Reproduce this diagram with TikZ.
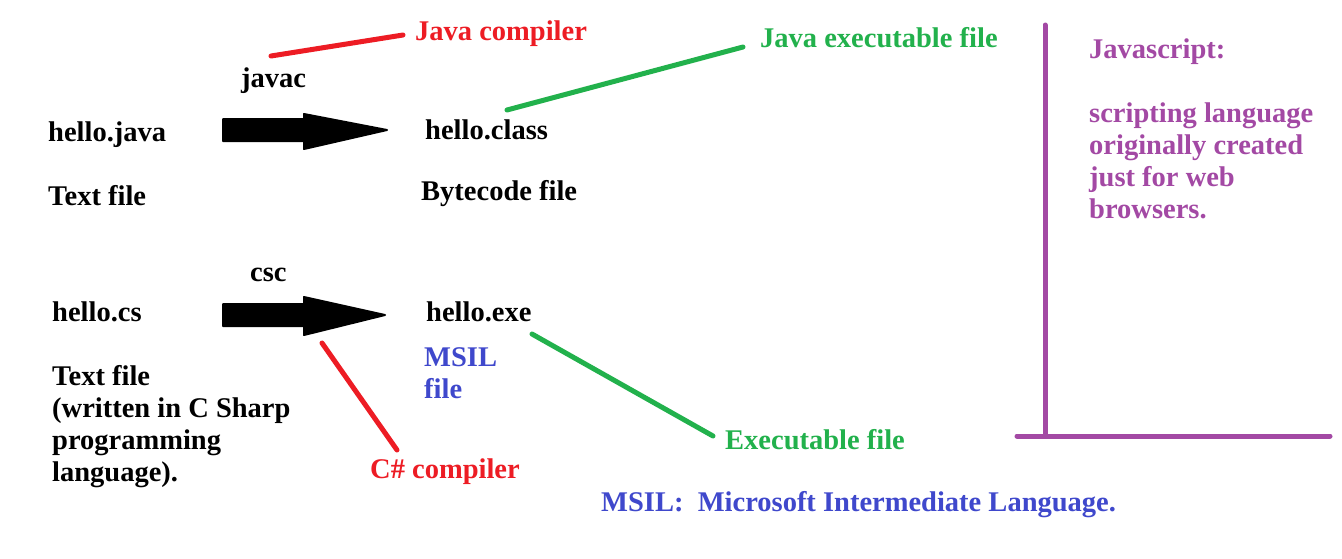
\documentclass[tikz,border=0pt]{standalone}
\usepackage{fontspec}
\setmainfont{Liberation Serif}
\definecolor{pred}{RGB}{237,28,36}
\definecolor{pgreen}{RGB}{34,177,76}
\definecolor{pblue}{RGB}{63,72,204}
\definecolor{ppurple}{RGB}{163,73,164}
\begin{document}
\begin{tikzpicture}[x=1pt,y=-1pt,
  lbl/.style={anchor=base west,inner sep=0pt,font=\fontsize{28.5}{32}\selectfont\bfseries,align=left},
  pointer/.style={line width=5pt,line cap=round},
  fatarrow/.style={fill=black,draw=black,line width=2pt,line join=round}]
\useasboundingbox[fill=white] (0,0) rectangle (1342,558);
% texts (multi-line nodes are placed by the baseline of their last line)
\node[lbl,text=pred] (jcomp) at (415,40) {Java compiler};
\node[lbl] (javac) at (241,87) {javac};
\node[lbl] (hjava) at (48,141) {hello.java};
\node[lbl] (hclass) at (425,139) {hello.class};
\node[lbl,text=pgreen] (jexe) at (760,47) {Java executable file};
\node[lbl] (tf1) at (48,205) {Text file};
\node[lbl] (bc) at (421,200) {Bytecode file};
\node[lbl] (csc) at (250,281) {csc};
\node[lbl] (hcs) at (52,321) {hello.cs};
\node[lbl] (hexe) at (426,321) {hello.exe};
\node[lbl,text=pblue] (msilf) at (424,398) {MSIL\\file};
\node[lbl] (tf2) at (52,481) {Text file\\(written in C Sharp\\programming\\language).};
\node[lbl,text=pred] (ccomp) at (370,478) {C\# compiler};
\node[lbl,text=pgreen] (exef) at (725,449) {Executable file};
\node[lbl,text=pblue] (msil) at (601,511) {MSIL:\ \ Microsoft Intermediate Language.};
\node[lbl,text=ppurple] (js) at (1089,218) {Javascript:\\[32pt]scripting language\\originally created\\just for web\\browsers.};
% fat arrows
\coordinate (a1s) at (223,130);
\coordinate (a1t) at (387,130);
\fill[fatarrow] (223,119) -- (304,119) -- (304,114) -- (a1t) -- (304,149) -- (304,141) -- (223,141) -- cycle;
\coordinate (a2s) at (223,315);
\coordinate (a2t) at (385,315);
\fill[fatarrow] (223,304) -- (304,304) -- (304,297) -- (a2t) -- (304,335) -- (304,326) -- (223,326) -- cycle;
% pointer lines
\coordinate (r1a) at (271,56);
\coordinate (r1b) at (403,35);
\draw[pointer,pred] (r1a) -- (r1b);
\coordinate (g1a) at (507,110);
\coordinate (g1b) at (743,47);
\draw[pointer,pgreen] (g1a) -- (g1b);
\coordinate (r2a) at (322,343);
\coordinate (r2b) at (397,450);
\draw[pointer,pred] (r2a) -- (r2b);
\coordinate (g2a) at (532,334);
\coordinate (g2b) at (713,436);
\draw[pointer,pgreen] (g2a) -- (g2b);
% purple lines
\coordinate (pv1) at (1045,25);
\coordinate (pv2) at (1045,436);
\coordinate (ph1) at (1017,436);
\coordinate (ph2) at (1330,436);
\draw[pointer,ppurple] (pv1) -- (pv2);
\draw[pointer,ppurple] (ph1) -- (ph2);
\end{tikzpicture}
\end{document}
